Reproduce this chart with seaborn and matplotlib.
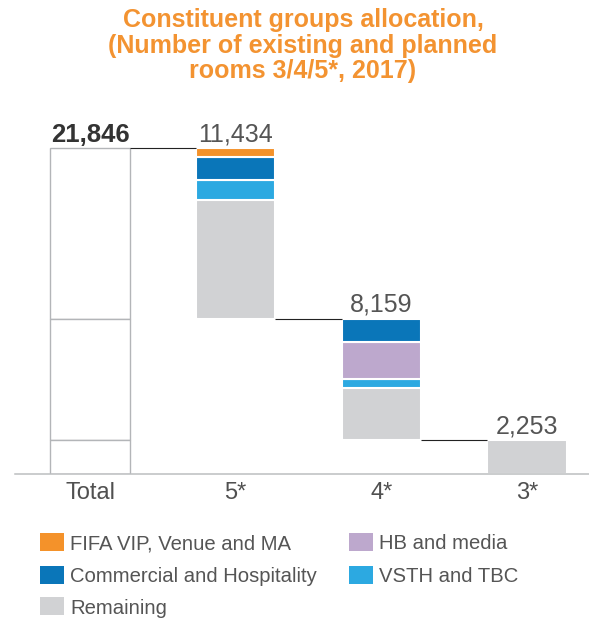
import numpy as np
import pandas as pd
import matplotlib
matplotlib.use("Agg")
import matplotlib.pyplot as plt
from matplotlib.patches import Rectangle
import seaborn as sns

# ---- data -------------------------------------------------------------
categories = ["Total", "5*", "4*", "3*"]
star_categories = ["5*", "4*", "3*"]
star_totals = [11434, 8159, 2253]
grand_total = 21846

# rooms per constituent group, per star category (5*, 4*, 3*)
fifa_vip = [590, 0, 0]
commercial = [1510, 1540, 0]
hb_media = [0, 2520, 0]
vsth = [1380, 590, 0]
remaining = [7954, 3509, 2253]

group_names = ["Remaining", "VSTH and TBC", "HB and media",
               "Commercial and Hospitality", "FIFA VIP, Venue and MA"]
group_values = [remaining, vsth, hb_media, commercial, fifa_vip]
group_colors = ["#D1D2D4", "#2CA9E1", "#BDA8CD", "#0A76B9", "#F4922A"]

legend_order = ["FIFA VIP, Venue and MA", "Commercial and Hospitality",
                "Remaining", "HB and media", "VSTH and TBC"]

# ---- style ------------------------------------------------------------
sns.set_theme(style="white")
plt.rcParams["font.family"] = ["Liberation Sans", "DejaVu Sans"]

W, H = 589, 618
fig = plt.figure(figsize=(W / 100, H / 100), dpi=100)
ax = fig.add_axes([15 / W, 144.3 / H, 574 / W, 372.4 / H])

bar_w = 0.545

# floating base of each star bar (waterfall)
bases = []
level = grand_total
for t in star_totals:
    level -= t
    bases.append(level)

# Total bar: outlined white blocks, one per star category
tot_df = pd.DataFrame({
    "category": ["Total"] * 3,
    "rooms": star_totals,
    "bottom": bases,
})
for i in range(len(tot_df)):
    row = tot_df.iloc[[i]]
    sns.barplot(data=row, x="category", y="rooms", order=categories,
                color="white", saturation=1, width=bar_w, errorbar=None,
                bottom=row["bottom"].values, edgecolor="#B3B5B8",
                linewidth=1.0, ax=ax)

# stacked group segments on each floating star bar
running = list(bases)
for name, vals, col in zip(group_names, group_values, group_colors):
    rows = []
    for j, cat in enumerate(star_categories):
        if vals[j] > 0:
            rows.append({"category": cat, "rooms": vals[j], "bottom": running[j]})
            running[j] += vals[j]
    if not rows:
        continue
    df = pd.DataFrame(rows)
    df["pos"] = df["category"].map(categories.index)
    df = df.sort_values("pos")
    sns.barplot(data=df, x="category", y="rooms", order=categories,
                color=col, saturation=1, width=bar_w, errorbar=None,
                bottom=df["bottom"].values, edgecolor="white",
                linewidth=1.5, ax=ax)

# waterfall connectors
tops = [grand_total] + [b + t for b, t in zip(bases, star_totals)]
for i in range(1, len(categories)):
    ax.plot([i - 1 + bar_w / 2, i - bar_w / 2], [tops[i], tops[i]],
            color="#222222", lw=0.8, solid_capstyle="butt", zorder=3)

# value labels
ax.annotate(f"{grand_total:,}", (0, grand_total), xytext=(0, 4.8),
            textcoords="offset points", ha="center", va="baseline",
            fontsize=18.5, fontweight="bold", color="#333333")
for i, t in enumerate(star_totals, start=1):
    ax.annotate(f"{t:,}", (i, tops[i]), xytext=(0, 5),
                textcoords="offset points", ha="center", va="baseline",
                fontsize=18, color="#555555")

# axes cosmetics
ax.set_xlim(-0.515, 3.425)
ax.set_ylim(0, 25000)
ax.set_xlabel("")
ax.set_ylabel("")
ax.set_yticks([])
ax.tick_params(axis="x", length=0, pad=6, labelsize=17, labelcolor="#505050")
for s in ["top", "left", "right"]:
    ax.spines[s].set_visible(False)
ax.spines["bottom"].set_color("#BCBEC0")
ax.spines["bottom"].set_linewidth(1.1)
ax.patch.set_alpha(0)

# title
title_lines = ["Constituent groups allocation,",
               "(Number of existing and planned",
               "rooms 3/4/5*, 2017)"]
title_baselines = [27, 52.5, 78]
for line, yb in zip(title_lines, title_baselines):
    fig.text(303 / W, 1 - yb / H, line, ha="center", va="baseline",
             fontsize=18, fontweight="bold", color="#F39331")

# legend
color_of = dict(zip(group_names, group_colors))
col_x = [40, 349]
row_y = [541.5, 574.5, 606]
for k, name in enumerate(legend_order):
    c, r = (0, k) if k < 3 else (1, k - 3)
    x0, yc = col_x[c], row_y[r]
    fig.add_artist(Rectangle((x0 / W, 1 - (yc + 9) / H), 24 / W, 18 / H,
                             transform=fig.transFigure,
                             facecolor=color_of[name], edgecolor="none"))
    fig.text((x0 + 30) / W, 1 - (yc + 7.7) / H, name, ha="left",
             va="baseline", fontsize=14.6, color="#555555")

fig.savefig("out.png", dpi=100)
